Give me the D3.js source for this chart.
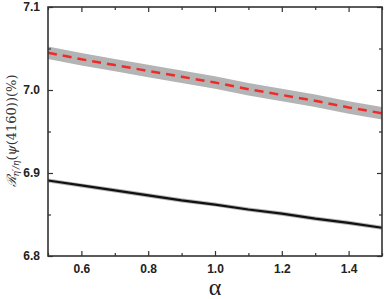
<!DOCTYPE html>
<html>
<head>
<meta charset="utf-8">
<script src="https://cdn.jsdelivr.net/npm/d3@7"></script>
<style>
body { margin: 0; background: #fff; }
svg { display: block; }
</style>
</head>
<body>
<svg width="384" height="299"></svg>
<script>
var alpha = [0.5, 0.6, 0.7, 0.8, 0.9, 1.0, 1.1, 1.2, 1.3, 1.4, 1.5];
var redVals = [7.045, 7.037, 7.030, 7.023, 7.016, 7.009, 7.001, 6.994, 6.987, 6.979, 6.972];
var blackVals = [6.891, 6.885, 6.879, 6.873, 6.867, 6.862, 6.856, 6.851, 6.845, 6.840, 6.834];
var redErr = 0.0075, blackErr = 0.0025;
var xTicks = [0.6, 0.8, 1.0, 1.2, 1.4];
var xMinor = [0.5, 0.7, 0.9, 1.1, 1.3, 1.5];
var yTicks = [6.8, 6.9, 7.0, 7.1];
var yMinor = [6.85, 6.95, 7.05];

var svg = d3.select("svg");
var mLeft = 48, mRight = 382, mTop = 7, mBottom = 256;

var x = d3.scaleLinear().domain([0.5, 1.5]).range([mLeft, mRight]);
var y = d3.scaleLinear().domain([6.8, 7.1]).range([mBottom, mTop]);

svg.append("clipPath").attr("id", "clip")
    .append("rect").attr("x", mLeft).attr("y", mTop)
    .attr("width", mRight - mLeft).attr("height", mBottom - mTop);

var plot = svg.append("g").attr("clip-path", "url(#clip)");

function band(vals, err){
    return d3.area()
        .x((d, i) => x(alpha[i]))
        .y0(d => y(d - err))
        .y1(d => y(d + err))(vals);
}
var line = d3.line().x((d, i) => x(alpha[i])).y(d => y(d));

plot.append("path").attr("d", band(redVals, redErr)).attr("fill", "#b4b4b4");
plot.append("path").attr("d", band(blackVals, blackErr)).attr("fill", "#b4b4b4");
plot.append("path").attr("d", line(redVals)).attr("fill", "none")
    .attr("stroke", "#ee2a2a").attr("stroke-width", 2.5).attr("stroke-dasharray", "9,6");
plot.append("path").attr("d", line(blackVals)).attr("fill", "none")
    .attr("stroke", "#111").attr("stroke-width", 2.2);

// axes, ticks inward on all four sides
function axis(gen, tx, ty, vals, size, fmt, pad){
    return svg.append("g").attr("transform", "translate(" + tx + "," + ty + ")")
        .call(gen.tickValues(vals).tickSize(-size).tickPadding(pad || 3).tickFormat(fmt || ""));
}
axis(d3.axisBottom(x), 0, mBottom, xTicks, 5, d3.format(".1f"), 8);
axis(d3.axisBottom(x), 0, mBottom, xMinor, 3);
axis(d3.axisTop(x), 0, mTop, xTicks, 5);
axis(d3.axisTop(x), 0, mTop, xMinor, 3);
axis(d3.axisLeft(y), mLeft, 0, yTicks, 5, d3.format(".1f"), 8);
axis(d3.axisLeft(y), mLeft, 0, yMinor, 3);
axis(d3.axisRight(y), mRight, 0, yTicks, 5);
axis(d3.axisRight(y), mRight, 0, yMinor, 3);

svg.selectAll(".domain").remove();
svg.selectAll(".tick line").attr("stroke", "#333").attr("stroke-width", 1.2);
svg.selectAll(".tick text")
    .attr("font-family", "Liberation Sans, Arial, sans-serif")
    .attr("font-weight", "bold").attr("font-size", 12).attr("fill", "#222");

svg.append("rect").attr("x", mLeft).attr("y", mTop)
    .attr("width", mRight - mLeft).attr("height", mBottom - mTop)
    .attr("fill", "none").attr("stroke", "#333").attr("stroke-width", 1.6);

svg.append("text").attr("x", (mLeft + mRight) / 2).attr("y", 295)
    .attr("text-anchor", "middle")
    .attr("font-family", "Liberation Serif, serif").attr("font-size", 24)
    .attr("fill", "#222").text("α");

var ylab = svg.append("text")
    .attr("transform", "translate(16,131) rotate(-90)")
    .attr("text-anchor", "middle")
    .attr("font-family", "DejaVu Serif, Liberation Serif, serif")
    .attr("font-size", 13).attr("fill", "#333");
ylab.append("tspan").attr("font-style", "italic").text("ℛ");
ylab.append("tspan").attr("font-size", 9).attr("dy", 3).attr("font-style", "italic").text("η′/η");
ylab.append("tspan").attr("dy", -3).text("(");
ylab.append("tspan").attr("font-style", "italic").text("ψ");
ylab.append("tspan").text("(4160))(%)");
</script>
</body>
</html>
